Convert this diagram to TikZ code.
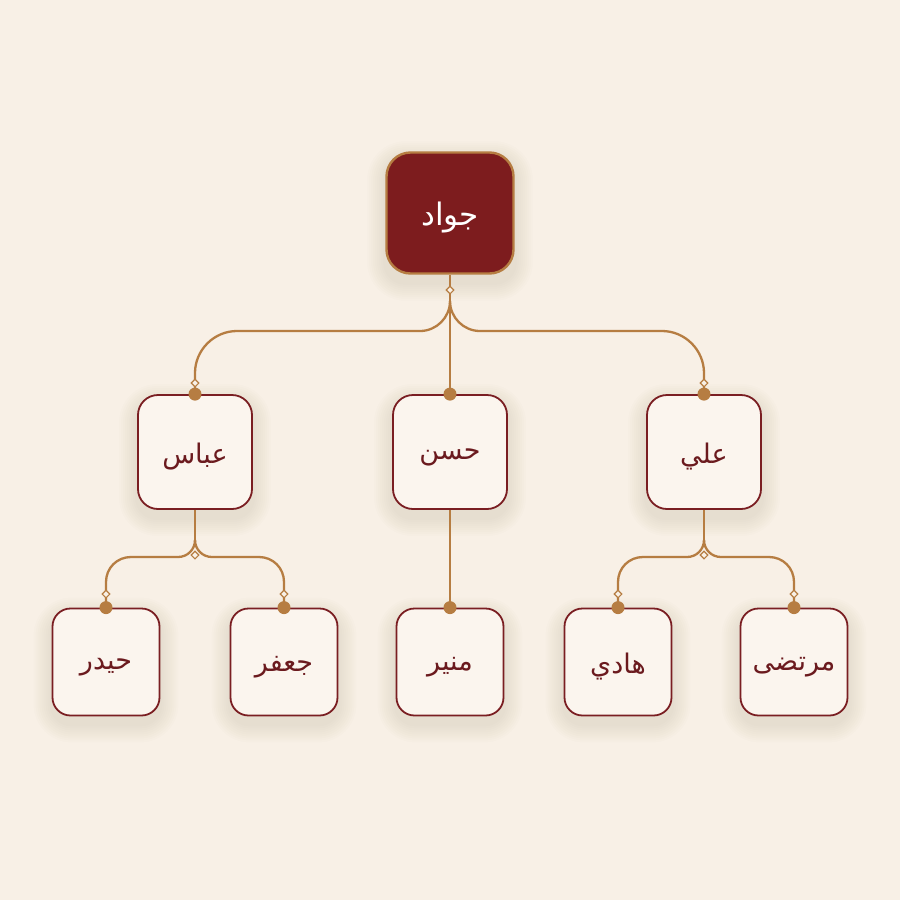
\documentclass[tikz,border=0pt]{standalone}
\usepackage{fontspec}
\usetikzlibrary{shapes.geometric}
\newfontfamily\arabicfont[Script=Arabic]{DejaVu Sans}
\TeXXeTstate=1
\pgfdeclarelayer{background}
\pgfsetlayers{background,main}
\newcommand{\artxt}[1]{\raisebox{-5pt}[\height][\depth]{\beginR #1\endR}}
\definecolor{bg}{RGB}{248,240,230}
\definecolor{nodefill}{RGB}{251,245,238}
\definecolor{nodeborder}{RGB}{122,30,34}
\definecolor{textred}{RGB}{107,26,30}
\definecolor{gold}{RGB}{182,125,66}
\definecolor{rootfill}{RGB}{125,28,30}
\definecolor{shadowc}{RGB}{120,80,50}
\tikzset{
  rootbox/.style={draw=gold, line width=2.4pt, fill=rootfill, rounded corners=24pt,
    minimum width=127pt, minimum height=121pt, inner sep=0pt, text=white,
    font=\arabicfont\fontsize{31}{36}\selectfont},
  midbox/.style={draw=nodeborder, line width=1.8pt, fill=nodefill, rounded corners=20pt,
    minimum width=114pt, minimum height=114pt, inner sep=0pt, text=textred,
    font=\arabicfont\fontsize{27}{32}\selectfont},
  leafbox/.style={midbox, minimum width=107pt, minimum height=107pt, rounded corners=18pt},
  conn/.style={draw=gold, line width=2.3pt},
  diam/.style={diamond, draw=gold, fill=bg, line width=1.1pt, minimum size=8pt, inner sep=0pt},
  dot/.style={circle, fill=gold, minimum size=13pt, inner sep=0pt},
  shade/.style={fill=shadowc, fill opacity=0.01},
}
\begin{document}
\begin{tikzpicture}[x=1pt,y=-1pt]
\useasboundingbox (0,0) rectangle (900,900);
% boxes
\node[rootbox] (root) at (450,213) {\artxt{جواد}};
\node[midbox] (abbas) at (195,452) {\artxt{عباس}};
\node[midbox] (hasan) at (450,452) {\artxt{حسن}};
\node[midbox] (ali) at (704,452) {\artxt{علي}};
\node[leafbox] (haydar) at (106,662) {\artxt{حيدر}};
\node[leafbox] (jafar) at (284,662) {\artxt{جعفر}};
\node[leafbox] (munir) at (450,662) {\artxt{منير}};
\node[leafbox] (hadi) at (618,662) {\artxt{هادي}};
\node[leafbox] (murtada) at (794,662) {\artxt{مرتضى}};
% background and soft shadows
\begin{pgfonlayer}{background}
\fill[bg] (0,0) rectangle (900,900);
\foreach \n in {root,abbas,hasan,ali,haydar,jafar,munir,hadi,murtada}
  \foreach \k in {2,4,...,18}
    \fill[shade, rounded corners=20pt+\k pt]
      ([xshift=-\k pt, yshift=\k pt-8pt]\n.north west) rectangle
      ([xshift=\k pt, yshift=-\k pt-8pt]\n.south east);
\end{pgfonlayer}
% junction coordinates
\coordinate (j0) at (450,301);
\coordinate (ja) at (195,540);
\coordinate (jb) at (704,540);
% level 1 connectors
\draw[conn] (root.south) -- (j0) -- (hasan.north);
\draw[conn] (j0) .. controls (450,317.5) and (436.5,331) .. (420,331) -- (237,331)
  .. controls (214,331) and (195,350) .. (195,373) -- (abbas.north);
\draw[conn] (j0) .. controls (450,317.5) and (463.5,331) .. (480,331) -- (662,331)
  .. controls (685,331) and (704,350) .. (704,373) -- (ali.north);
% level 2 connectors
\draw[conn] (abbas.south) -- (ja);
\draw[conn] (ja) .. controls (195,549.5) and (187.5,557) .. (178,557) -- (131,557)
  .. controls (117,557) and (106,568) .. (106,582) -- (haydar.north);
\draw[conn] (ja) .. controls (195,549.5) and (202.5,557) .. (212,557) -- (259,557)
  .. controls (273,557) and (284,568) .. (284,582) -- (jafar.north);
\draw[conn] (hasan.south) -- (munir.north);
\draw[conn] (ali.south) -- (jb);
\draw[conn] (jb) .. controls (704,549.5) and (696.5,557) .. (687,557) -- (643,557)
  .. controls (629,557) and (618,568) .. (618,582) -- (hadi.north);
\draw[conn] (jb) .. controls (704,549.5) and (711.5,557) .. (721,557) -- (769,557)
  .. controls (783,557) and (794,568) .. (794,582) -- (murtada.north);
% markers
\node[diam] (m0) at (450,290) {};
\node[diam] (m1) at (195,383) {};
\node[diam] (m2) at (704,383) {};
\node[diam] (m3) at (195,555) {};
\node[diam] (m4) at (704,555) {};
\node[diam] (m5) at (106,594) {};
\node[diam] (m6) at (284,594) {};
\node[diam] (m7) at (618,594) {};
\node[diam] (m8) at (794,594) {};
\foreach \n in {abbas,hasan,ali,haydar,jafar,munir,hadi,murtada}
  \node[dot] at (\n.north) {};
\end{tikzpicture}
\end{document}
